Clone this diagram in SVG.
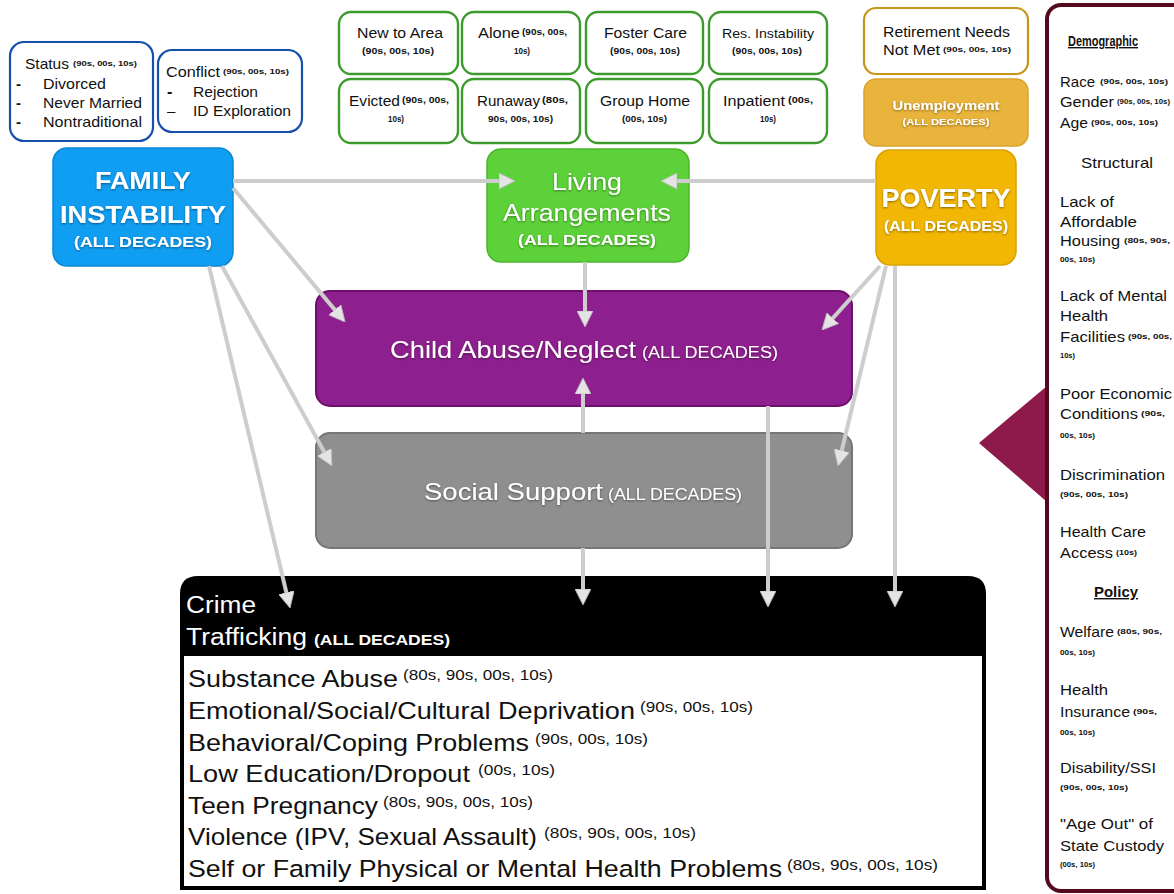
<svg xmlns="http://www.w3.org/2000/svg" width="1174" height="894" viewBox="0 0 1174 894">
  <style>
    text { font-family: "Liberation Sans", Arial, sans-serif; fill: #111; }
    .b { font-weight: bold; }
    .w { fill: #fff; }
    .u { text-decoration: underline; }
    .mid { text-anchor: middle; }
    .blue-box { fill: #fff; stroke: #1750aa; stroke-width: 2.2; }
    .green-box { fill: #fff; stroke: #3d9b2d; stroke-width: 2.4; }
    .link { fill: none; stroke: #cdcdcd; stroke-width: 4; marker-end: url(#head); }
    .shadow { filter: url(#txtShadow); }
  </style>
  <defs>
    <marker id="head" viewBox="0 0 16 16" refX="8" refY="8" markerWidth="16" markerHeight="16" markerUnits="userSpaceOnUse" orient="auto">
      <path d="M0,0 L16,8 L0,16 Z" fill="#e4e4e4" stroke="#b9b9b9" stroke-width="0.8"/>
    </marker>
    <filter id="txtShadow" x="-10%" y="-30%" width="120%" height="160%">
      <feDropShadow dx="0" dy="1" stdDeviation="1" flood-color="#000" flood-opacity="0.45"/>
    </filter>
  </defs>

  <rect width="1174" height="894" fill="#fff"/>

  <!-- family structure detail boxes -->
  <g id="status-box">
    <rect class="blue-box" x="10" y="42" width="143" height="99" rx="14"/>
    <text x="25" y="69" font-size="15" textLength="44" lengthAdjust="spacingAndGlyphs">Status</text>
    <text x="73" y="66" class="b" font-size="8" textLength="64" lengthAdjust="spacingAndGlyphs">(90s, 00s, 10s)</text>
    <text x="16" y="89" class="b" font-size="15">-</text>
    <text x="43" y="89" font-size="15" textLength="63" lengthAdjust="spacingAndGlyphs">Divorced</text>
    <text x="16" y="108" class="b" font-size="15">-</text>
    <text x="43" y="108" font-size="15" textLength="99" lengthAdjust="spacingAndGlyphs">Never Married</text>
    <text x="16" y="127" class="b" font-size="15">-</text>
    <text x="43" y="127" font-size="15" textLength="99" lengthAdjust="spacingAndGlyphs">Nontraditional</text>
  </g>
  <g id="conflict-box">
    <rect class="blue-box" x="158" y="50" width="144" height="82" rx="14"/>
    <text x="166" y="77" font-size="15" textLength="54" lengthAdjust="spacingAndGlyphs">Conflict</text>
    <text x="223" y="74" class="b" font-size="7.5" textLength="66" lengthAdjust="spacingAndGlyphs">(90s, 00s, 10s)</text>
    <text x="167" y="97" class="b" font-size="16">-</text>
    <text x="193" y="97" font-size="15" textLength="65" lengthAdjust="spacingAndGlyphs">Rejection</text>
    <text x="167" y="116" font-size="15">–</text>
    <text x="193" y="116" font-size="15" textLength="98" lengthAdjust="spacingAndGlyphs">ID Exploration</text>
  </g>

  <!-- living arrangement detail boxes -->
  <g id="new-to-area">
    <rect class="green-box" x="339" y="12" width="119" height="62" rx="12"/>
    <text x="357" y="38" font-size="14" textLength="86" lengthAdjust="spacingAndGlyphs">New to Area</text>
    <text x="362" y="54" class="b" font-size="9" textLength="72" lengthAdjust="spacingAndGlyphs">(90s, 00s, 10s)</text>
  </g>
  <g id="alone">
    <rect class="green-box" x="462" y="12" width="118" height="62" rx="12"/>
    <text x="478" y="38" font-size="14" textLength="42" lengthAdjust="spacingAndGlyphs">Alone</text>
    <text x="522" y="35" class="b" font-size="9" textLength="45" lengthAdjust="spacingAndGlyphs">(90s, 00s,</text>
    <text x="514" y="54" class="b" font-size="9" textLength="16" lengthAdjust="spacingAndGlyphs">10s)</text>
  </g>
  <g id="foster-care">
    <rect class="green-box" x="586" y="12" width="117" height="62" rx="12"/>
    <text x="604" y="38" font-size="14" textLength="83" lengthAdjust="spacingAndGlyphs">Foster Care</text>
    <text x="610" y="54" class="b" font-size="9" textLength="70" lengthAdjust="spacingAndGlyphs">(90s, 00s, 10s)</text>
  </g>
  <g id="res-instability">
    <rect class="green-box" x="709" y="12" width="118" height="62" rx="12"/>
    <text x="722" y="38" font-size="13" textLength="92" lengthAdjust="spacingAndGlyphs">Res. Instability</text>
    <text x="732" y="54" class="b" font-size="9" textLength="70" lengthAdjust="spacingAndGlyphs">(90s, 00s, 10s)</text>
  </g>
  <g id="evicted">
    <rect class="green-box" x="339" y="79" width="119" height="64" rx="12"/>
    <text x="349" y="106" font-size="14" textLength="51" lengthAdjust="spacingAndGlyphs">Evicted</text>
    <text x="402" y="103" class="b" font-size="9" textLength="47" lengthAdjust="spacingAndGlyphs">(90s, 00s,</text>
    <text x="388" y="122" class="b" font-size="9" textLength="16" lengthAdjust="spacingAndGlyphs">10s)</text>
  </g>
  <g id="runaway">
    <rect class="green-box" x="462" y="79" width="118" height="64" rx="12"/>
    <text x="477" y="106" font-size="14" textLength="63" lengthAdjust="spacingAndGlyphs">Runaway</text>
    <text x="542" y="103" class="b" font-size="9" textLength="26" lengthAdjust="spacingAndGlyphs">(80s,</text>
    <text x="488" y="122" class="b" font-size="9" textLength="65" lengthAdjust="spacingAndGlyphs">90s, 00s, 10s)</text>
  </g>
  <g id="group-home">
    <rect class="green-box" x="586" y="79" width="117" height="64" rx="12"/>
    <text x="600" y="106" font-size="14" textLength="90" lengthAdjust="spacingAndGlyphs">Group Home</text>
    <text x="622" y="122" class="b" font-size="9" textLength="45" lengthAdjust="spacingAndGlyphs">(00s, 10s)</text>
  </g>
  <g id="inpatient">
    <rect class="green-box" x="709" y="79" width="118" height="64" rx="12"/>
    <text x="723" y="106" font-size="14" textLength="62" lengthAdjust="spacingAndGlyphs">Inpatient</text>
    <text x="788" y="103" class="b" font-size="9" textLength="25" lengthAdjust="spacingAndGlyphs">(00s,</text>
    <text x="760" y="122" class="b" font-size="9" textLength="16" lengthAdjust="spacingAndGlyphs">10s)</text>
  </g>

  <!-- economic detail boxes -->
  <g id="retirement-needs">
    <rect x="864" y="8" width="164" height="66" rx="12" fill="#fff" stroke="#c9941a" stroke-width="2.2"/>
    <text x="883" y="37" font-size="14" textLength="127" lengthAdjust="spacingAndGlyphs">Retirement Needs</text>
    <text x="883" y="55" font-size="14" textLength="57" lengthAdjust="spacingAndGlyphs">Not Met</text>
    <text x="943" y="52" class="b" font-size="8" textLength="68" lengthAdjust="spacingAndGlyphs">(90s, 00s, 10s)</text>
  </g>
  <g id="unemployment">
    <rect x="864" y="79" width="164" height="67" rx="12" fill="#e9b43c" stroke="#d9a22c" stroke-width="1.5"/>
    <g class="shadow">
      <text x="946" y="110" class="b w mid" font-size="13" textLength="107" lengthAdjust="spacingAndGlyphs">Unemployment</text>
      <text x="946" y="125" class="b w mid" font-size="9" textLength="87" lengthAdjust="spacingAndGlyphs">(ALL DECADES)</text>
    </g>
  </g>

  <!-- main factor nodes -->
  <g id="family-instability">
    <rect x="53" y="148" width="180" height="118" rx="14" fill="#109ef3" stroke="#0b86d6" stroke-width="1.5"/>
    <g class="shadow">
      <text x="143" y="189" class="b w mid" font-size="24" textLength="96" lengthAdjust="spacingAndGlyphs">FAMILY</text>
      <text x="143" y="223" class="b w mid" font-size="24" textLength="166" lengthAdjust="spacingAndGlyphs">INSTABILITY</text>
      <text x="143" y="247" class="b w mid" font-size="15" textLength="138" lengthAdjust="spacingAndGlyphs">(ALL DECADES)</text>
    </g>
  </g>
  <g id="living-arrangements">
    <rect x="487" y="149" width="202" height="113" rx="14" fill="#5dd13a" stroke="#4db52c" stroke-width="1.5"/>
    <g class="shadow">
      <text x="587" y="190" class="w mid" font-size="24" textLength="70" lengthAdjust="spacingAndGlyphs">Living</text>
      <text x="587" y="221" class="w mid" font-size="24" textLength="168" lengthAdjust="spacingAndGlyphs">Arrangements</text>
      <text x="587" y="245" class="b w mid" font-size="15" textLength="138" lengthAdjust="spacingAndGlyphs">(ALL DECADES)</text>
    </g>
  </g>
  <g id="poverty">
    <rect x="876" y="150" width="140" height="115" rx="14" fill="#f2b705" stroke="#d9a200" stroke-width="1.5"/>
    <g class="shadow">
      <text x="946" y="207" class="b w mid" font-size="25" textLength="129" lengthAdjust="spacingAndGlyphs">POVERTY</text>
      <text x="946" y="231" class="b w mid" font-size="15" textLength="124" lengthAdjust="spacingAndGlyphs">(ALL DECADES)</text>
    </g>
  </g>
  <g id="child-abuse-neglect">
    <rect x="316" y="291" width="536" height="115" rx="14" fill="#8e1f8e" stroke="#6d0f6d" stroke-width="2"/>
    <g class="shadow">
      <text x="390" y="358" class="w" font-size="24" textLength="246" lengthAdjust="spacingAndGlyphs">Child Abuse/Neglect</text>
      <text x="642" y="358" class="w" font-size="16" textLength="136" lengthAdjust="spacingAndGlyphs">(ALL DECADES)</text>
    </g>
  </g>
  <g id="social-support">
    <rect x="316" y="433" width="536" height="115" rx="14" fill="#8f8f8f" stroke="#767676" stroke-width="2"/>
    <g class="shadow">
      <text x="424" y="500" class="w" font-size="24" textLength="179" lengthAdjust="spacingAndGlyphs">Social Support</text>
      <text x="608" y="500" class="w" font-size="16" textLength="134" lengthAdjust="spacingAndGlyphs">(ALL DECADES)</text>
    </g>
  </g>

  <!-- outcomes box -->
  <g id="crime-outcomes">
    <path d="M180,890 V594 Q180,576 198,576 H968 Q986,576 986,594 V890 Z" fill="#000"/>
    <rect x="184" y="656" width="798" height="230" fill="#fff"/>
    <text x="186" y="613" class="w" font-size="23" textLength="70" lengthAdjust="spacingAndGlyphs">Crime</text>
    <text x="186" y="645" class="w" font-size="23" textLength="121" lengthAdjust="spacingAndGlyphs">Trafficking</text>
    <text x="314" y="645" class="w b" font-size="14" textLength="136" lengthAdjust="spacingAndGlyphs">(ALL DECADES)</text>

    <text x="188" y="687" font-size="24.5" textLength="210" lengthAdjust="spacingAndGlyphs">Substance Abuse</text>
    <text x="403" y="680" font-size="14.5" textLength="150" lengthAdjust="spacingAndGlyphs">(80s, 90s, 00s, 10s)</text>
    <text x="188" y="719" font-size="24.5" textLength="447" lengthAdjust="spacingAndGlyphs">Emotional/Social/Cultural Deprivation</text>
    <text x="640" y="712" font-size="14.5" textLength="113" lengthAdjust="spacingAndGlyphs">(90s, 00s, 10s)</text>
    <text x="188" y="751" font-size="24.5" textLength="341" lengthAdjust="spacingAndGlyphs">Behavioral/Coping Problems</text>
    <text x="535" y="744" font-size="14.5" textLength="113" lengthAdjust="spacingAndGlyphs">(90s, 00s, 10s)</text>
    <text x="188" y="782" font-size="24.5" textLength="282" lengthAdjust="spacingAndGlyphs">Low Education/Dropout</text>
    <text x="478" y="775" font-size="14.5" textLength="77" lengthAdjust="spacingAndGlyphs">(00s, 10s)</text>
    <text x="188" y="814" font-size="24.5" textLength="190" lengthAdjust="spacingAndGlyphs">Teen Pregnancy</text>
    <text x="383" y="807" font-size="14.5" textLength="150" lengthAdjust="spacingAndGlyphs">(80s, 90s, 00s, 10s)</text>
    <text x="188" y="845" font-size="24.5" textLength="349" lengthAdjust="spacingAndGlyphs">Violence (IPV, Sexual Assault)</text>
    <text x="544" y="838" font-size="14.5" textLength="152" lengthAdjust="spacingAndGlyphs">(80s, 90s, 00s, 10s)</text>
    <text x="188" y="877" font-size="24.5" textLength="594" lengthAdjust="spacingAndGlyphs">Self or Family Physical or Mental Health Problems</text>
    <text x="787" y="870" font-size="14.5" textLength="151" lengthAdjust="spacingAndGlyphs">(80s, 90s, 00s, 10s)</text>
  </g>

  <!-- contextual factors panel -->
  <g id="context-panel">
    <polygon points="979,443 1047,386 1047,502" fill="#8e1a4c"/>
    <rect x="1047" y="5" width="150" height="886" rx="14" fill="#fff" stroke="#55091d" stroke-width="4"/>
    <text x="1103" y="46" class="b u mid" font-size="14" textLength="70" lengthAdjust="spacingAndGlyphs">Demographic</text>
    <text x="1060" y="87" font-size="15" textLength="35" lengthAdjust="spacingAndGlyphs">Race</text>
    <text x="1100" y="84" class="b" font-size="7.5" textLength="68" lengthAdjust="spacingAndGlyphs">(90s, 00s, 10s)</text>
    <text x="1060" y="107" font-size="15" textLength="54" lengthAdjust="spacingAndGlyphs">Gender</text>
    <text x="1117" y="104" class="b" font-size="6.5" textLength="53" lengthAdjust="spacingAndGlyphs">(90s, 00s, 10s)</text>
    <text x="1060" y="128" font-size="15" textLength="28" lengthAdjust="spacingAndGlyphs">Age</text>
    <text x="1091" y="125" class="b" font-size="7.5" textLength="67" lengthAdjust="spacingAndGlyphs">(90s, 00s, 10s)</text>
    <text x="1117" y="168" class="mid" font-size="15" textLength="72" lengthAdjust="spacingAndGlyphs">Structural</text>
    <text x="1060" y="207" font-size="15" textLength="54" lengthAdjust="spacingAndGlyphs">Lack of</text>
    <text x="1060" y="227" font-size="15" textLength="77" lengthAdjust="spacingAndGlyphs">Affordable</text>
    <text x="1060" y="246" font-size="15" textLength="60" lengthAdjust="spacingAndGlyphs">Housing</text>
    <text x="1124" y="243" class="b" font-size="7.5" textLength="46" lengthAdjust="spacingAndGlyphs">(80s, 90s,</text>
    <text x="1060" y="262" class="b" font-size="7.5" textLength="35" lengthAdjust="spacingAndGlyphs">00s, 10s)</text>
    <text x="1060" y="301" font-size="15" textLength="107" lengthAdjust="spacingAndGlyphs">Lack of Mental</text>
    <text x="1060" y="321" font-size="15" textLength="48" lengthAdjust="spacingAndGlyphs">Health</text>
    <text x="1060" y="342" font-size="15" textLength="65" lengthAdjust="spacingAndGlyphs">Facilities</text>
    <text x="1128" y="339" class="b" font-size="7.5" textLength="44" lengthAdjust="spacingAndGlyphs">(90s, 00s,</text>
    <text x="1060" y="358" class="b" font-size="7.5" textLength="15" lengthAdjust="spacingAndGlyphs">10s)</text>
    <text x="1060" y="399" font-size="15" textLength="112" lengthAdjust="spacingAndGlyphs">Poor Economic</text>
    <text x="1060" y="419" font-size="15" textLength="78" lengthAdjust="spacingAndGlyphs">Conditions</text>
    <text x="1141" y="416" class="b" font-size="7.5" textLength="24" lengthAdjust="spacingAndGlyphs">(90s,</text>
    <text x="1060" y="438" class="b" font-size="7.5" textLength="35" lengthAdjust="spacingAndGlyphs">00s, 10s)</text>
    <text x="1060" y="480" font-size="15" textLength="105" lengthAdjust="spacingAndGlyphs">Discrimination</text>
    <text x="1060" y="497" class="b" font-size="7.5" textLength="68" lengthAdjust="spacingAndGlyphs">(90s, 00s, 10s)</text>
    <text x="1060" y="537" font-size="15" textLength="86" lengthAdjust="spacingAndGlyphs">Health Care</text>
    <text x="1060" y="558" font-size="15" textLength="53" lengthAdjust="spacingAndGlyphs">Access</text>
    <text x="1116" y="555" class="b" font-size="7.5" textLength="21" lengthAdjust="spacingAndGlyphs">(10s)</text>
    <text x="1116" y="597" class="b u mid" font-size="14" textLength="44" lengthAdjust="spacingAndGlyphs">Policy</text>
    <text x="1060" y="637" font-size="15" textLength="54" lengthAdjust="spacingAndGlyphs">Welfare</text>
    <text x="1117" y="634" class="b" font-size="7.5" textLength="45" lengthAdjust="spacingAndGlyphs">(80s, 90s,</text>
    <text x="1060" y="655" class="b" font-size="7.5" textLength="35" lengthAdjust="spacingAndGlyphs">00s, 10s)</text>
    <text x="1060" y="695" font-size="15" textLength="48" lengthAdjust="spacingAndGlyphs">Health</text>
    <text x="1060" y="717" font-size="15" textLength="70" lengthAdjust="spacingAndGlyphs">Insurance</text>
    <text x="1133" y="714" class="b" font-size="7.5" textLength="24" lengthAdjust="spacingAndGlyphs">(90s,</text>
    <text x="1060" y="735" class="b" font-size="7.5" textLength="35" lengthAdjust="spacingAndGlyphs">00s, 10s)</text>
    <text x="1060" y="773" font-size="15" textLength="96" lengthAdjust="spacingAndGlyphs">Disability/SSI</text>
    <text x="1060" y="790" class="b" font-size="7.5" textLength="68" lengthAdjust="spacingAndGlyphs">(90s, 00s, 10s)</text>
    <text x="1060" y="829" font-size="15" textLength="93" lengthAdjust="spacingAndGlyphs">"Age Out" of</text>
    <text x="1060" y="851" font-size="15" textLength="104" lengthAdjust="spacingAndGlyphs">State Custody</text>
    <text x="1060" y="867" class="b" font-size="7.5" textLength="35" lengthAdjust="spacingAndGlyphs">(00s, 10s)</text>
  </g>

  <!-- connectors -->
  <g id="connectors">
    <line class="link" x1="233" y1="181" x2="507" y2="181"/>
    <line class="link" x1="876" y1="181" x2="669" y2="181"/>
    <line class="link" x1="585" y1="262" x2="585" y2="319"/>
    <line class="link" x1="583" y1="433" x2="583" y2="386"/>
    <line class="link" x1="583" y1="548" x2="583" y2="597"/>
    <line class="link" x1="768" y1="406" x2="768" y2="599"/>
    <line class="link" x1="895" y1="266" x2="895" y2="599"/>
    <line class="link" x1="880" y1="266" x2="827.4" y2="324.1"/>
    <line class="link" x1="886" y1="266" x2="839.9" y2="458.2"/>
    <line class="link" x1="233" y1="188" x2="339.9" y2="315.9"/>
    <line class="link" x1="222" y1="266" x2="328.1" y2="459"/>
    <line class="link" x1="209" y1="266" x2="288.2" y2="600.2"/>
  </g>
</svg>
